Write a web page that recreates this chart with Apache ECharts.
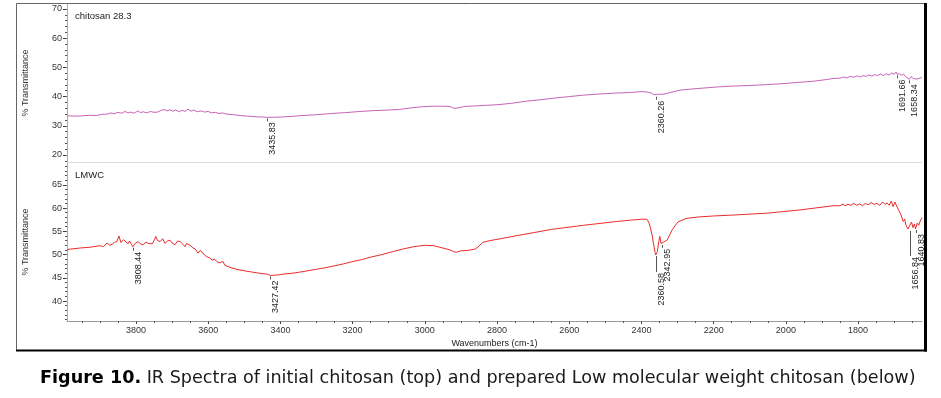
<!DOCTYPE html>
<html>
<head>
<meta charset="utf-8">
<script src="https://cdn.jsdelivr.net/npm/echarts@6/dist/echarts.min.js"></script>
<style>
  html, body { margin: 0; padding: 0; background: #fff; }
  #chart { width: 941px; height: 398px; }
</style>
</head>
<body>
<div id="chart"></div>
<script>
// chitosan 28.3 (top panel)
const chitosanWn = [3990, 3960, 3930, 3910, 3895, 3880, 3870, 3860, 3850, 3840, 3830, 3822, 3815, 3805, 3795, 3787, 3780, 3770, 3760, 3750,
  3740, 3730, 3722, 3714, 3706, 3698, 3690, 3680, 3672, 3664, 3656, 3648, 3640, 3630, 3620, 3610, 3600, 3590, 3580, 3570,
  3560, 3550, 3530, 3510, 3490, 3470, 3450, 3435.83, 3420, 3400, 3370, 3340, 3300, 3260, 3220, 3180, 3140, 3100, 3070, 3040,
  3010, 2980, 2950, 2930, 2920, 2915, 2908, 2895, 2880, 2860, 2830, 2800, 2760, 2720, 2680, 2640, 2600, 2560, 2515, 2470,
  2430, 2400, 2385, 2372, 2365, 2360.26, 2355, 2350, 2340, 2329, 2310, 2293, 2260, 2230, 2190, 2146, 2100, 2052, 2000, 1961,
  1920, 1890, 1869, 1850, 1840, 1832, 1822, 1812, 1802, 1794, 1786, 1778, 1770, 1762, 1754, 1746, 1738, 1730, 1722, 1714,
  1706, 1700, 1695, 1691.66, 1686, 1680, 1674, 1668, 1663, 1658.34, 1653, 1648, 1643, 1638, 1633, 1628, 1623];
const chitosanT = [33.4, 33.3, 33.6, 33.5, 33.9, 34.0, 34.4, 34.1, 34.6, 34.3, 34.9, 34.4, 34.7, 34.3, 35.1, 34.5, 34.8, 34.4, 34.9, 34.6,
  34.7, 35.3, 35.6, 35.1, 35.5, 35.0, 35.4, 34.8, 35.3, 34.9, 35.7, 35.0, 35.4, 34.8, 35.1, 34.7, 34.9, 34.4, 34.6, 34.2,
  34.4, 34.0, 33.8, 33.5, 33.3, 33.1, 33.0, 32.9, 32.9, 33.0, 33.2, 33.5, 33.8, 34.2, 34.5, 34.9, 35.2, 35.4, 35.6, 36.1,
  36.5, 36.7, 36.7, 36.6, 36.0, 35.7, 36.1, 36.5, 36.7, 36.8, 37.0, 37.2, 37.7, 38.4, 38.9, 39.5, 40.0, 40.5, 40.9, 41.2,
  41.4, 41.7, 41.6, 41.2, 40.6, 40.3, 40.8, 40.5, 40.8, 41.1, 41.7, 42.2, 42.6, 42.9, 43.3, 43.6, 43.8, 44.1, 44.5, 44.9,
  45.3, 45.8, 46.2, 46.3, 46.7, 46.4, 46.9, 46.6, 47.1, 46.7, 47.2, 46.9, 47.4, 47.0, 47.5, 47.2, 47.7, 47.2, 47.8, 47.4,
  48.1, 47.6, 48.4, 47.6, 47.8, 47.3, 47.7, 46.8, 47.2, 45.9, 46.9, 46.2, 46.8, 46.0, 46.6, 46.3, 46.6];
const chitosanPeaks = [[3435.83, 32.9], [2360.26, 40.3], [1691.66, 47.6], [1658.34, 45.9]];

// LMWC (bottom panel)
const lmwcWn = [3990, 3955, 3925, 3900, 3890, 3880, 3873, 3866, 3860, 3853, 3847, 3842, 3839, 3834, 3830, 3822, 3818, 3814, 3808.44, 3802,
  3794, 3788, 3780, 3772, 3766, 3761, 3755, 3748, 3745, 3740, 3733, 3726, 3720, 3713, 3706, 3700, 3692, 3685, 3678, 3671,
  3664, 3660, 3656, 3650, 3642, 3636, 3628, 3622, 3617, 3610, 3603, 3596, 3589, 3582, 3576, 3570, 3567, 3559, 3554, 3548,
  3534, 3520, 3500, 3484, 3460, 3437, 3427.42, 3409, 3390, 3365, 3340, 3310, 3280, 3254, 3225, 3199, 3175, 3152, 3124, 3090,
  3060, 3030, 3000, 2975, 2950, 2930, 2920, 2912, 2900, 2880, 2860, 2850, 2840, 2820, 2790, 2750, 2700, 2650, 2600, 2560,
  2515, 2470, 2430, 2400, 2385, 2380, 2376, 2370, 2366, 2362, 2360.58, 2356, 2352, 2349, 2346, 2342.95, 2338, 2329, 2322, 2315,
  2305, 2299, 2285, 2274, 2240, 2200, 2146, 2100, 2052, 2000, 1961, 1920, 1869, 1850, 1842, 1836, 1828, 1820, 1812, 1804,
  1796, 1788, 1780, 1772, 1764, 1756, 1748, 1740, 1732, 1726, 1720, 1714, 1708, 1703, 1698, 1693, 1688, 1684, 1680, 1675,
  1671, 1667, 1662, 1656.84, 1652, 1648, 1644, 1640.83, 1636, 1632, 1628, 1623];
const lmwcT = [51.1, 51.4, 51.6, 51.9, 51.7, 52.5, 52.0, 52.2, 52.6, 52.8, 54.0, 52.6, 52.4, 53.2, 53.1, 52.3, 52.9, 53.1, 51.7, 52.4,
  52.8, 52.3, 52.1, 52.7, 52.4, 52.6, 52.3, 53.3, 53.9, 53.0, 52.8, 53.4, 52.4, 52.9, 53.1, 52.5, 52.1, 52.9, 52.8, 52.3,
  51.7, 52.4, 52.8, 52.0, 51.4, 51.2, 50.3, 50.9, 50.6, 49.9, 49.5, 49.3, 48.8, 49.0, 48.5, 48.2, 48.0, 48.5, 47.7, 47.5,
  47.1, 46.8, 46.5, 46.3, 46.0, 45.8, 45.5, 45.6, 45.8, 46.0, 46.3, 46.7, 47.1, 47.5, 48.0, 48.5, 48.9, 49.4, 49.9, 50.6,
  51.2, 51.7, 52.0, 51.9, 51.4, 51.0, 50.6, 50.5, 50.8, 50.9, 51.2, 51.8, 52.6, 53.0, 53.4, 54.0, 54.7, 55.4, 55.9, 56.3,
  56.7, 57.1, 57.4, 57.6, 57.6, 57.0, 56.0, 54.0, 52.0, 50.4, 49.9, 50.6, 52.8, 53.9, 52.4, 52.3, 52.7, 53.1, 54.2, 55.3,
  56.4, 57.0, 57.5, 57.8, 58.1, 58.3, 58.5, 58.7, 58.9, 59.3, 59.6, 60.0, 60.5, 60.5, 60.9, 60.5, 60.8, 60.6, 61.0, 60.6,
  60.9, 60.5, 61.0, 60.7, 61.2, 60.8, 61.0, 60.6, 61.3, 60.8, 61.1, 60.6, 61.5, 60.3, 61.3, 60.4, 60.0, 59.0, 58.3, 57.1,
  57.6, 56.2, 55.5, 55.3, 57.0, 55.8, 56.6, 55.5, 56.8, 56.3, 57.2, 57.9];
const lmwcPeaks = [[3808.44, 51.7], [3427.42, 45.5], [2360.58, 49.9], [2342.95, 52.3], [1656.84, 55.3], [1640.83, 55.5]];

const xLabels = [3800, 3600, 3400, 3200, 3000, 2800, 2600, 2400, 2200, 2000, 1800];
const topYLabels = [20, 30, 40, 50, 60, 70];
const bottomYLabels = [40, 45, 50, 55, 60, 65];

const FONT = '"Liberation Sans", Arial, sans-serif';
const X_MIN = 1623, X_MAX = 3991;

function range(a, b, step) {
  const out = [];
  for (let v = a; v <= b + 1e-9; v += step) out.push(v);
  return out;
}
function zip(xs, ys) { return xs.map((x, i) => [x, ys[i]]); }

// longer leader lines where labels would otherwise collide
const leader = { 2360.58: 16, 1656.84: 25 };

function peakSeries(peaks, xi, yi) {
  return {
    type: 'custom', xAxisIndex: xi, yAxisIndex: yi, silent: true, z: 5,
    data: peaks,
    renderItem(params, api) {
      const w = api.value(0);
      const p = api.coord([w, api.value(1)]);
      const len = leader[w] || 3;
      const x = Math.round(p[0]) + 0.5;
      return {
        type: 'group',
        children: [
          { type: 'line', shape: { x1: x, y1: p[1] + 1, x2: x, y2: p[1] + 1 + len }, style: { stroke: '#555', lineWidth: 1 } },
          { type: 'text', x: x + 5, y: p[1] + len + 2, rotation: Math.PI / 2,
            style: { text: w.toFixed(2), align: 'right', verticalAlign: 'middle', fill: '#222', font: '9px ' + FONT } }
        ]
      };
    }
  };
}

const chart = echarts.init(document.getElementById('chart'));

const tickLabel = { fontFamily: FONT, fontSize: 9, color: '#333', formatter: v => String(v) };

chart.setOption({
  animation: false,
  backgroundColor: '#fff',
  title: [
    { text: 'chitosan 28.3', left: 70, top: 6, textStyle: { fontFamily: FONT, fontSize: 9.5, fontWeight: 'normal', color: '#222' } },
    { text: 'LMWC', left: 70, top: 165, textStyle: { fontFamily: FONT, fontSize: 9.5, fontWeight: 'normal', color: '#222' } },
    {
      text: '{b|Figure 10.} IR Spectra of initial chitosan (top) and prepared Low molecular weight chitosan (below)',
      left: 35, top: 364,
      textStyle: {
        fontFamily: '"DejaVu Sans", sans-serif', fontSize: 17.6, fontWeight: 'normal', color: '#1a1a1a',
        rich: { b: { fontFamily: '"DejaVu Sans", sans-serif', fontSize: 17.6, fontWeight: 'bold', color: '#000' } }
      }
    }
  ],
  grid: [
    { left: 67, top: 4, right: 19, height: 158 },
    { left: 67, top: 163, right: 19, height: 158 }
  ],
  xAxis: [
    // top panel: plain separator line
    { gridIndex: 0, type: 'value', position: 'bottom', inverse: true, min: X_MIN, max: X_MAX,
      axisLine: { show: true, lineStyle: { color: '#ddd' } }, axisTick: { show: false }, axisLabel: { show: false }, splitLine: { show: false } },
    // bottom panel: labelled axis
    { gridIndex: 1, type: 'value', position: 'bottom', inverse: true, min: X_MIN, max: X_MAX,
      name: 'Wavenumbers (cm-1)', nameLocation: 'middle', nameGap: 18,
      nameTextStyle: { fontFamily: FONT, fontSize: 9, color: '#222' },
      axisLine: { lineStyle: { color: '#999' } },
      axisTick: { customValues: xLabels, length: 3, lineStyle: { color: '#333' } },
      axisLabel: { customValues: xLabels, margin: 5, ...tickLabel },
      splitLine: { show: false } },
    // bottom panel: minor ticks
    { gridIndex: 1, type: 'value', position: 'bottom', inverse: true, min: X_MIN, max: X_MAX,
      axisLine: { show: false },
      axisTick: { customValues: range(1650, 3950, 50), length: 2, lineStyle: { color: '#555' } },
      axisLabel: { show: false }, splitLine: { show: false } }
  ],
  yAxis: [
    { gridIndex: 0, type: 'value', position: 'left', min: 17.6, max: 71.7,
      name: '% Transmittance', nameLocation: 'middle', nameGap: 37,
      nameTextStyle: { fontFamily: FONT, fontSize: 9, color: '#333' },
      axisLine: { show: true, lineStyle: { color: '#aaa' } },
      axisTick: { customValues: topYLabels, length: 4, lineStyle: { color: '#333' } },
      axisLabel: { customValues: topYLabels, margin: 5, ...tickLabel },
      splitLine: { show: false } },
    { gridIndex: 0, type: 'value', position: 'left', min: 17.6, max: 71.7,
      axisLine: { show: false },
      axisTick: { customValues: range(18, 70, 2), length: 2, lineStyle: { color: '#555' } },
      axisLabel: { show: false }, splitLine: { show: false } },
    { gridIndex: 1, type: 'value', position: 'left', min: 35.7, max: 69.7,
      name: '% Transmittance', nameLocation: 'middle', nameGap: 37,
      nameTextStyle: { fontFamily: FONT, fontSize: 9, color: '#333' },
      axisLine: { show: true, lineStyle: { color: '#aaa' } },
      axisTick: { customValues: bottomYLabels, length: 4, lineStyle: { color: '#333' } },
      axisLabel: { customValues: bottomYLabels, margin: 5, ...tickLabel },
      splitLine: { show: false } },
    { gridIndex: 1, type: 'value', position: 'left', min: 35.7, max: 69.7,
      axisLine: { show: false },
      axisTick: { customValues: range(36, 69, 1), length: 2, lineStyle: { color: '#555' } },
      axisLabel: { show: false }, splitLine: { show: false } }
  ],
  series: [
    { name: 'chitosan 28.3', type: 'line', xAxisIndex: 0, yAxisIndex: 0, data: zip(chitosanWn, chitosanT),
      showSymbol: false, silent: true, lineStyle: { color: '#c862b8', width: 1 } },
    { name: 'LMWC', type: 'line', xAxisIndex: 1, yAxisIndex: 2, data: zip(lmwcWn, lmwcT),
      showSymbol: false, silent: true, lineStyle: { color: '#ec2b2b', width: 1 } },
    peakSeries(chitosanPeaks, 0, 0),
    peakSeries(lmwcPeaks, 1, 2)
  ],
  graphic: [
    { type: 'line', shape: { x1: 16.5, y1: 3.5, x2: 925, y2: 3.5 }, style: { stroke: '#666', lineWidth: 1 } },
    { type: 'line', shape: { x1: 16.5, y1: 3.5, x2: 16.5, y2: 351 }, style: { stroke: '#666', lineWidth: 1 } },
    { type: 'line', shape: { x1: 925.5, y1: 3, x2: 925.5, y2: 351.5 }, style: { stroke: '#000', lineWidth: 3 } },
    { type: 'line', shape: { x1: 16, y1: 350.5, x2: 927, y2: 350.5 }, style: { stroke: '#000', lineWidth: 2 } }
  ]
});
</script>
</body>
</html>
